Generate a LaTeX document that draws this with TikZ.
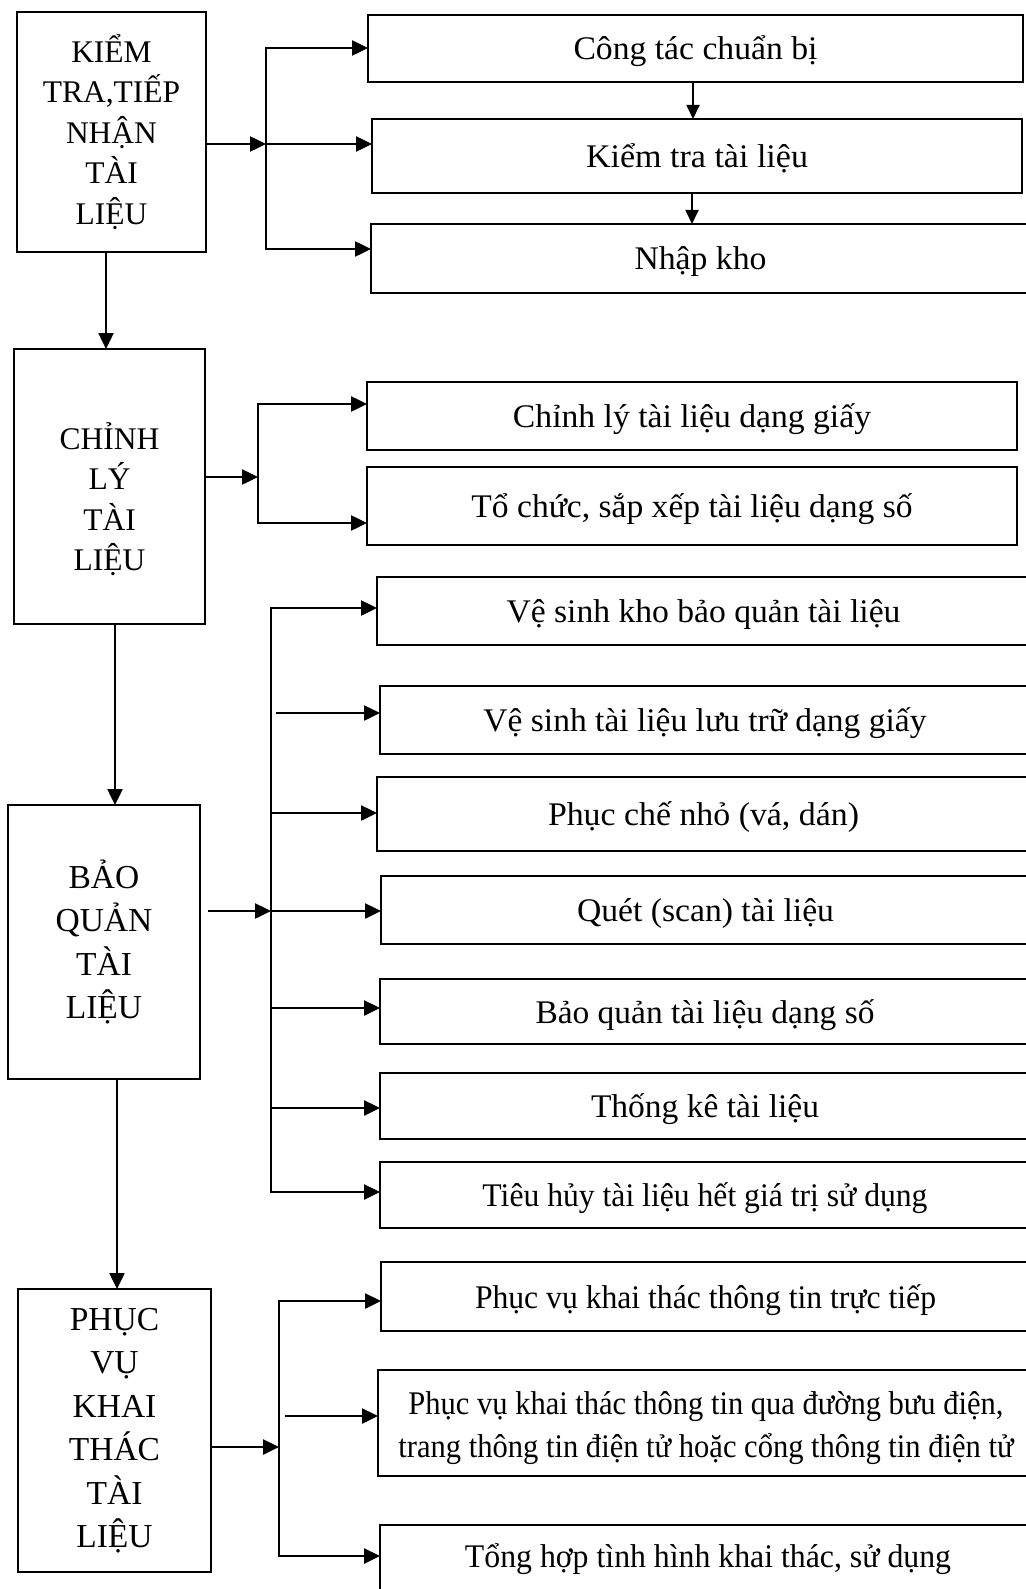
\documentclass[tikz,border=0pt]{standalone}
\usepackage{fontspec}
\setmainfont{Liberation Serif}
\usetikzlibrary{arrows.meta,calc}
\newcommand{\fitw}[2]{\resizebox{#1pt}{\height}{#2}}
\newcommand{\mkbox}[6]{\node[#6, minimum width={#4-#2}, minimum height={#5-#3}] (#1) at ({(#2+#4)/2},{(#3+#5)/2})}
\begin{document}
\begin{tikzpicture}[x=1pt,y=-1pt,
  box/.style={draw, line width=2.5pt, rectangle, inner sep=0pt, outer sep=0pt},
  lbox/.style={box, align=center, font=\fontsize{31.5}{40.5}\selectfont},
  lboxb/.style={box, align=center, font=\fontsize{33.5}{43.5}\selectfont},
  rbox/.style={box, font=\fontsize{33}{40}\selectfont, text height=31pt, text depth=8pt},
  rtxt/.style={inner sep=0pt, font=\fontsize{33}{43}\selectfont, align=center},
  ltxt/.style={inner sep=0pt, align=center, font=\fontsize{31.5}{40.5}\selectfont},
  arr/.style={line width=2.5pt, line join=miter, -{Triangle[length=16pt,width=15pt]}},
  arrs/.style={line width=1.8pt, -{Triangle[length=14pt,width=13pt]}}
]
\useasboundingbox (0,0) rectangle (1025,1589);
\fill[white] (0,0) rectangle (1025,1589);

% ---------- left boxes ----------
\mkbox{L1}{17}{12}{206}{252}{lbox} {KIỂM\\TRA,TIẾP\\NHẬN\\TÀI\\LIỆU};
\mkbox{L2}{14}{349}{205}{624}{box} {};
\node[ltxt] (L2t) at (109.5,499) {CHỈNH\\LÝ\\TÀI\\LIỆU};
\mkbox{L3}{8}{805}{200}{1079}{lboxb} {BẢO\\QUẢN\\TÀI\\LIỆU};
\mkbox{L4}{18}{1289}{211}{1572}{lboxb} {PHỤC\\VỤ\\KHAI\\THÁC\\TÀI\\LIỆU};

% ---------- right boxes ----------
\mkbox{R1}{368}{15}{1023}{82}{rbox} {\fitw{244}{Công tác chuẩn bị}};
\mkbox{R2}{372}{119}{1022}{193}{rbox} {\fitw{222}{Kiểm tra tài liệu}};
\mkbox{R3}{371}{224}{1030}{293}{rbox} {\fitw{132}{Nhập kho}};
\mkbox{R4}{367}{382}{1017}{450}{rbox} {\fitw{358}{Chỉnh lý tài liệu dạng giấy}};
\mkbox{R5}{367}{467}{1017}{545}{rbox} {\fitw{441}{Tổ chức, sắp xếp tài liệu dạng số}};
\mkbox{R6}{377}{577}{1030}{645}{rbox} {\fitw{394}{Vệ sinh kho bảo quản tài liệu}};
\mkbox{R7}{380}{686}{1030}{754}{rbox} {\fitw{443}{Vệ sinh tài liệu lưu trữ dạng giấy}};
\mkbox{R8}{377}{777}{1030}{851}{rbox} {\fitw{311}{Phục chế nhỏ (vá, dán)}};
\mkbox{R9}{381}{876}{1030}{944}{rbox} {\fitw{257}{Quét (scan) tài liệu}};
\mkbox{R10}{380}{979}{1030}{1044}{rbox} {\fitw{339}{Bảo quản tài liệu dạng số}};
\mkbox{R11}{380}{1073}{1030}{1139}{rbox} {\fitw{228}{Thống kê tài liệu}};
\mkbox{R12}{380}{1162}{1030}{1228}{rbox} {\fitw{445}{Tiêu hủy tài liệu hết giá trị sử dụng}};
\mkbox{R13}{381}{1262}{1030}{1331}{rbox} {\fitw{461}{Phục vụ khai thác thông tin trực tiếp}};
\mkbox{R14}{378}{1370}{1034}{1476}{box} {};
\node[rtxt] (R14t) at (706,1428) {\fitw{595}{Phục vụ khai thác thông tin qua đường bưu điện,}\\\fitw{615}{trang thông tin điện tử hoặc cổng thông tin điện tử}};
\mkbox{R15}{380}{1525}{1036}{1620}{box} {};
\node[rtxt, text height=31pt, text depth=8pt] (R15t) at (708,1556) {\fitw{486}{Tổng hợp tình hình khai thác, sử dụng}};

% ---------- vertical arrows between left boxes ----------
\coordinate (v1) at (106,0);
\coordinate (v2) at (115,0);
\coordinate (v3) at (117,0);
\draw[arr] (L1.south -| v1) -- (L2.north -| v1);
\draw[arr] (L2.south -| v2) -- (L3.north -| v2);
\draw[arr] (L3.south -| v3) -- (L4.north -| v3);

% ---------- group 1 ----------
\coordinate (j1) at (266,144);
\coordinate (t1) at (266,48);
\coordinate (u1) at (266,249);
\draw[arr] (L1.east |- j1) -- (j1);
\draw[arr] (j1) -- (t1) -- (t1 -| R1.west);
\draw[arr] (j1) -- (j1 -| R2.west);
\draw[arr] (j1) -- (u1) -- (u1 -| R3.west);
\coordinate (v4) at (693,0);
\coordinate (v5) at (692,0);
\draw[arrs] (R1.south -| v4) -- (R2.north -| v4);
\draw[arrs] (R2.south -| v5) -- (R3.north -| v5);

% ---------- group 2 ----------
\coordinate (j2) at (258,477);
\coordinate (t2) at (258,404);
\coordinate (u2) at (258,523);
\draw[arr] (L2.east |- j2) -- (j2);
\draw[arr] (j2) -- (t2) -- (t2 -| R4.west);
\draw[arr] (j2) -- (u2) -- (u2 -| R5.west);

% ---------- group 3 ----------
\coordinate (j3) at (271,911);
\coordinate (t3) at (271,608);
\coordinate (u3) at (271,1192);
\coordinate (a7) at (276,713);
\coordinate (a8) at (271,813);
\coordinate (a10) at (271,1008);
\coordinate (a11) at (271,1108);
\draw[arr] ($(L3.east |- j3)+(8,0)$) -- (j3);
\draw[arr] (j3) -- (t3) -- (t3 -| R6.west);
\draw[arr] (j3) -- (u3) -- (u3 -| R12.west);
\draw[arr] (a7) -- (a7 -| R7.west);
\draw[arr] (a8) -- (a8 -| R8.west);
\draw[arr] (j3) -- (j3 -| R9.west);
\draw[arr] (a10) -- (a10 -| R10.west);
\draw[arr] (a11) -- (a11 -| R11.west);

% ---------- group 4 ----------
\coordinate (j4) at (279,1447);
\coordinate (t4) at (279,1301);
\coordinate (u4) at (279,1556);
\coordinate (a14) at (285,1416);
\draw[arr] (L4.east |- j4) -- (j4);
\draw[arr] (j4) -- (t4) -- (t4 -| R13.west);
\draw[arr] (j4) -- (u4) -- (u4 -| R15.west);
\draw[arr] (a14) -- (a14 -| R14.west);
\end{tikzpicture}
\end{document}
